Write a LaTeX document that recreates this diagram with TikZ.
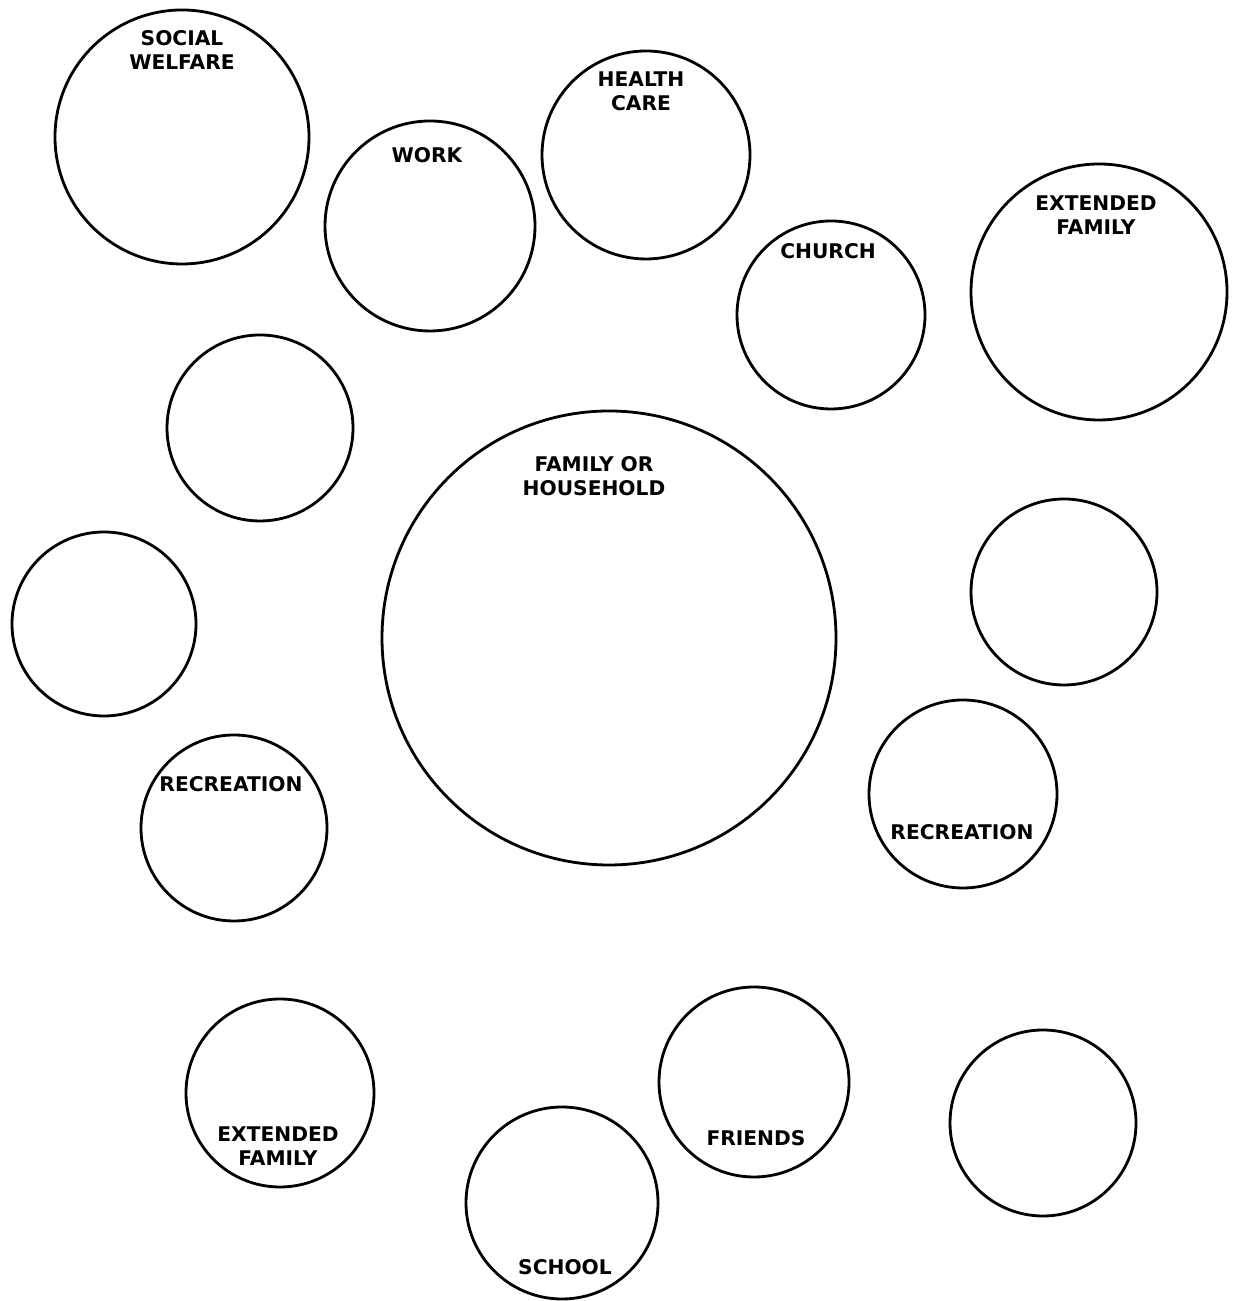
\documentclass[tikz,border=0pt]{standalone}
\usepackage{fontspec}
\setsansfont{DejaVu Sans}
\usepackage{tikz}
\usetikzlibrary{calc}

\begin{document}
\begin{tikzpicture}[
  every node/.style={font=\sffamily\bfseries},
  sys/.style={circle, draw=black, line width=1.6pt, inner sep=0pt},
  lbl/.style={align=center, inner sep=0pt, font=\sffamily\bfseries\fontsize{11.5}{13.6}\selectfont}
]
  \useasboundingbox (0,0) rectangle (24.66,26.02);
  % systems round the household
  \node[sys, minimum size=5.08cm] (welfare) at (3.64,23.28) {};
  \node[sys, minimum size=4.20cm] (work)    at (8.60,21.50) {};
  \node[sys, minimum size=4.16cm] (health)  at (12.92,22.92) {};
  \node[sys, minimum size=3.76cm] (church)  at (16.62,19.72) {};
  \node[sys, minimum size=5.12cm] (extfamA) at (21.98,20.18) {};
  \node[sys, minimum size=3.72cm] (blankA)  at (5.20,17.46) {};
  \node[sys, minimum size=9.08cm] (family)  at (12.18,13.26) {};
  \node[sys, minimum size=3.68cm] (blankB)  at (2.08,13.54) {};
  \node[sys, minimum size=3.72cm] (blankC)  at (21.28,14.18) {};
  \node[sys, minimum size=3.72cm] (recA)    at (4.68,9.46) {};
  \node[sys, minimum size=3.76cm] (recB)    at (19.26,10.14) {};
  \node[sys, minimum size=3.76cm] (extfamB) at (5.60,4.16) {};
  \node[sys, minimum size=3.80cm] (friends) at (15.08,4.38) {};
  \node[sys, minimum size=3.72cm] (blankD)  at (20.86,3.56) {};
  \node[sys, minimum size=3.84cm] (school)  at (11.24,1.96) {};
  % labels
  \node[lbl] (welfareT) at ($(welfare)+(0,1.74)$) {SOCIAL\\WELFARE};
  \node[lbl] (workT)    at ($(work)+(-0.06,1.42)$) {WORK};
  \node[lbl] (healthT)  at ($(health)+(-0.10,1.28)$) {HEALTH\\CARE};
  \node[lbl] (churchT)  at ($(church)+(-0.06,1.28)$) {CHURCH};
  \node[lbl] (extfamAT) at ($(extfamA)+(-0.06,1.54)$) {EXTENDED\\FAMILY};
  \node[lbl] (familyT)  at ($(family)+(-0.30,3.24)$) {FAMILY OR\\HOUSEHOLD};
  \node[lbl] (recAT)    at ($(recA)+(-0.06,0.88)$) {RECREATION};
  \node[lbl] (recBT)    at ($(recB)+(-0.02,-0.76)$) {RECREATION};
  \node[lbl] (extfamBT) at ($(extfamB)+(-0.04,-1.06)$) {EXTENDED\\FAMILY};
  \node[lbl] (friendsT) at ($(friends)+(0.04,-1.12)$) {FRIENDS};
  \node[lbl] (schoolT)  at ($(school)+(0.06,-1.28)$) {SCHOOL};
\end{tikzpicture}
\end{document}
